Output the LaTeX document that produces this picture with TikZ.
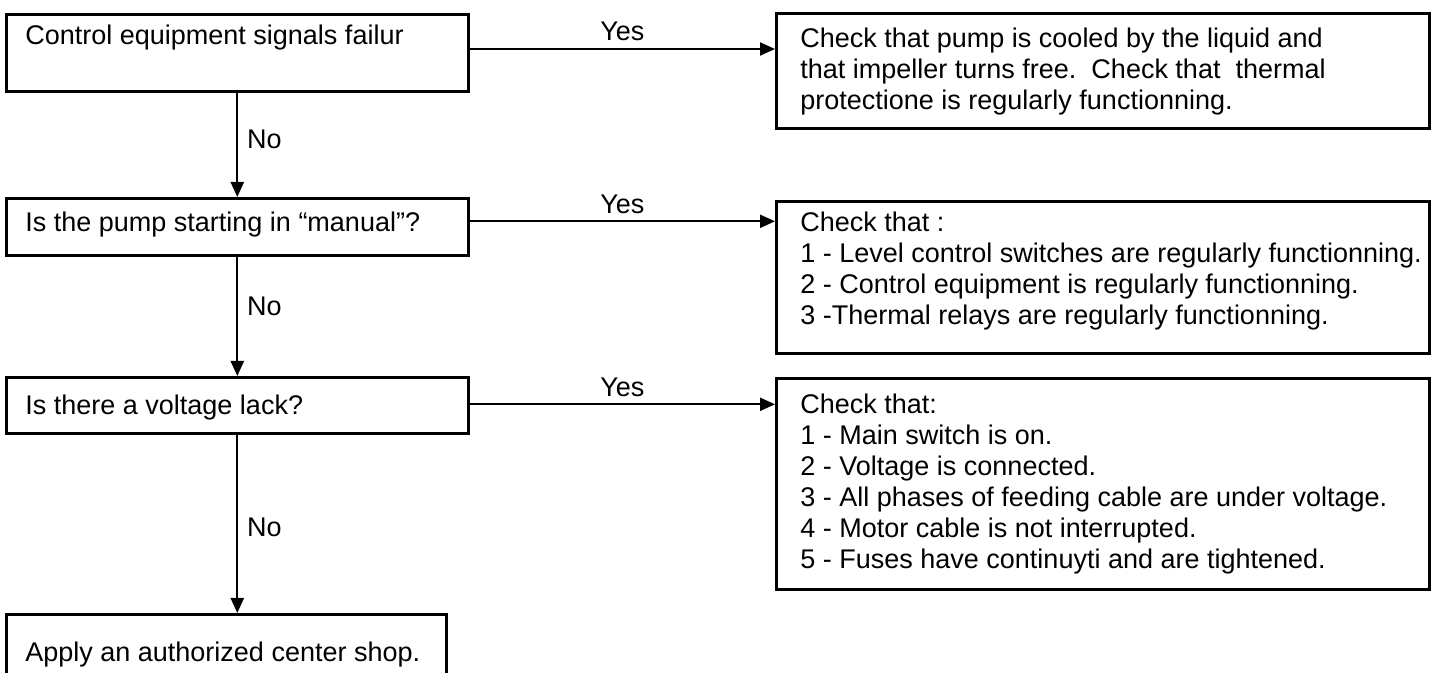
\documentclass[tikz,border=0pt]{standalone}
\usepackage{fontspec}
\setmainfont{Liberation Sans}
\usetikzlibrary{scopes,positioning,arrows.meta}

\begin{document}
\begin{tikzpicture}[
    x=1pt,y=1pt,
    box/.style={rectangle,draw=black,line width=1.3pt,anchor=north west,inner sep=0pt},
    txt/.style={align=left,inner sep=0pt,font=\fontsize{13.5}{15.5}\selectfont},
    flow/.style={draw=black,line width=1.1pt,-{Triangle[length=7.5pt,width=6.5pt]}},
    answer/.style={font=\fontsize{13.5}{15.5}\selectfont},
]

    \useasboundingbox (0,0) rectangle (718,-336.5);

    % Questions (left column)
    \node[box,minimum width=231pt,minimum height=38.5pt] (fail) at (2.5,-6.5) {};
    \node[box,minimum width=231pt,minimum height=28.5pt] (manual) at (2.5,-98.5) {};
    \node[box,minimum width=231pt,minimum height=28pt] (volt) at (2.5,-188) {};
    \node[box,minimum width=220pt,minimum height=40pt] (shop) at (2.5,-306.5) {};

    \node[txt,below right=6pt and 10pt of fail.north west] (failtxt) {Control equipment signals failur};
    \node[txt,below right=7.5pt and 10pt of manual.north west] (manualtxt) {Is the pump starting in “manual”?};
    \node[txt,below right=9.5pt and 10pt of volt.north west] (volttxt) {Is there a voltage lack?};
    \node[txt,below right=14.5pt and 10pt of shop.north west] (shoptxt) {Apply an authorized center shop.};

    % Checks (right column)
    \node[box,minimum width=326.5pt,minimum height=57.5pt] (cool) at (387.5,-6) {};
    \node[box,minimum width=326.5pt,minimum height=76pt] (chka) at (387.5,-100) {};
    \node[box,minimum width=326.5pt,minimum height=105.5pt] (chkb) at (387.5,-188.5) {};

    \node[txt,below right=8pt and 12.5pt of cool.north west] (cooltxt) {Check that pump is cooled by the liquid and\\
        that impeller turns free.\ \ Check that\ \ thermal\\
        protectione is regularly functionning.};
    \node[txt,below right=6pt and 12.5pt of chka.north west] (chkatxt) {Check that :\\
        1 - Level control switches are regularly functionning.\\
        2 - Control equipment is regularly functionning.\\
        3 -Thermal relays are regularly functionning.};
    \node[txt,below right=8.5pt and 12.5pt of chkb.north west] (chkbtxt) {Check that:\\
        1 - Main switch is on.\\
        2 - Voltage is connected.\\
        3 - All phases of feeding cable are under voltage.\\
        4 - Motor cable is not interrupted.\\
        5 - Fuses have continuyti and are tightened.};

    % Yes / No connectors
    {[flow]
        \draw ([yshift=1.9pt]fail.east) -- ([yshift=1.9pt]fail.east -| cool.west)
            node[answer,midway,above] (yesa) {Yes};
        \draw ([yshift=2.75pt]manual.east) -- ([yshift=2.75pt]manual.east -| chka.west)
            node[answer,midway,above] (yesb) {Yes};
        \draw ([yshift=0.5pt]volt.east) -- ([yshift=0.5pt]volt.east -| chkb.west)
            node[answer,midway,above] (yesc) {Yes};
        \draw (fail.south) -- (manual.north) node[answer,pos=0.45,right=1pt] (noa) {No};
        \draw (manual.south) -- (volt.north) node[answer,pos=0.42,right=1pt] (nob) {No};
        \draw (volt.south) -- (volt.south |- shop.north) node[answer,pos=0.52,right=1pt] (noc) {No};
    }

\end{tikzpicture}
\end{document}
